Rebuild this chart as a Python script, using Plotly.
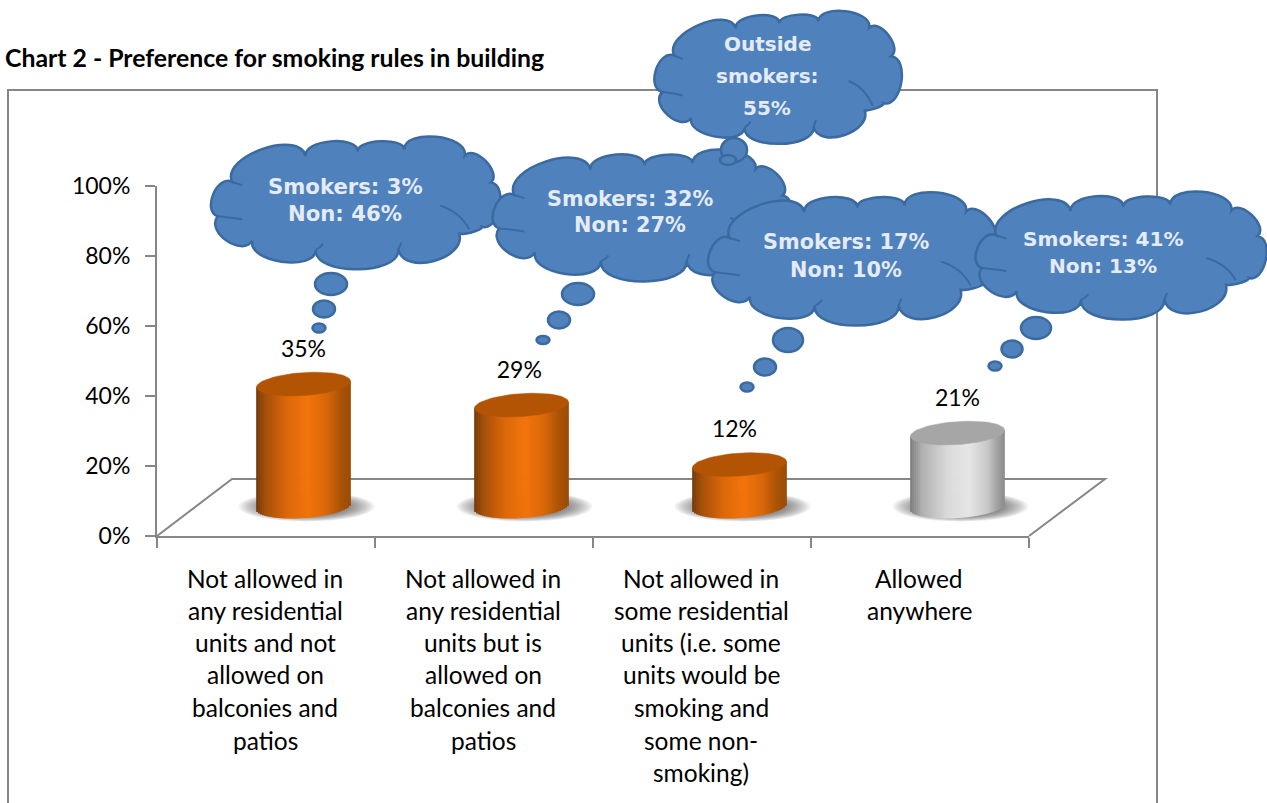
import numpy as np
import plotly.graph_objects as go

W, H = 1267, 803

# ---------- data ----------
title_text = "Chart 2 - Preference for smoking rules in building"
category_lines = [
    ["Not allowed in", "any residential", "units and not", "allowed on", "balconies and", "patios"],
    ["Not allowed in", "any residential", "units but is", "allowed on", "balconies and", "patios"],
    ["Not allowed in", "some residential", "units (i.e. some", "units would be", "smoking and", "some non-", "smoking)"],
    ["Allowed", "anywhere"],
]
values = [35, 29, 12, 21]
y_ticks = [0, 20, 40, 60, 80, 100]
y_tick_labels = ["0%", "20%", "40%", "60%", "80%", "100%"]
callout_lines = [
    ["Smokers: 3%", "Non: 46%"],
    ["Smokers: 32%", "Non: 27%"],
    ["Outside", "smokers:", "55%"],
    ["Smokers: 17%", "Non: 10%"],
    ["Smokers: 41%", "Non: 13%"],
]

# ---------- layout constants (pixels of the page) ----------
AX_L, AX_R, AX_T, AX_B = 157, 1029, 186, 536
PX_X = (AX_R - AX_L) / 4.0
PX_Y = (AX_B - AX_T) / 100.0
GREY = "#868686"
FONT = "Lato"
TICK_SIZE = 24.5
Y_TICK_SIZE = 23
BAR_SHIFT = 0.172      # perspective shift of the cylinders
LABEL_SHIFT = [0.0, -0.01, -0.023, 0.0]
DEPTH_BASE = 8.4       # floor depth offset, axis units
A, B, SHEAR = 47.0, 11.5, 0.065   # cylinder ellipse (px)
N = 48

def fx(x): return x / W
def fy(y): return 1 - y / H

ORANGE = [(-1, "#75390A"), (-0.8, "#A5500A"), (-0.35, "#DB680A"), (0.1, "#F3730A"), (0.5, "#D8670A"), (0.8, "#AB5306"), (1, "#994A03")]
SILVER = [(-1, "#7C7C7C"), (-0.75, "#B0B0B0"), (-0.2, "#DADADA"), (0.25, "#E6E6E6"), (0.65, "#C8C8C8"), (0.85, "#A2A2A2"), (1, "#8A8A8A")]
CAPS = ["#B25404", "#B25404", "#B25404", "#A6A6A6"]
RAMPS = [ORANGE, ORANGE, ORANGE, SILVER]

def ramp(stops, u):
    for (u0, c0), (u1, c1) in zip(stops, stops[1:]):
        if u <= u1:
            t = (u - u0) / (u1 - u0)
            a = [int(c0[i:i + 2], 16) for i in (1, 3, 5)]
            b = [int(c1[i:i + 2], 16) for i in (1, 3, 5)]
            return "rgb(%d,%d,%d)" % tuple(round(p + (q - p) * t) for p, q in zip(a, b))
    return stops[-1][1]

# ---------- cylinders: strips of a bar trace ----------
bar_x, bar_h, bar_b, bar_c = [], [], [], []
us = (np.arange(N) + 0.5) / N * 2 - 1
for i, v in enumerate(values):
    for u in us:
        tilt = SHEAR * A * u / PX_Y
        drop = B * np.sqrt(1 - u * u) / PX_Y
        low = DEPTH_BASE + tilt - drop
        top = DEPTH_BASE + tilt + v
        bar_x.append(i + BAR_SHIFT + u * A / PX_X)
        bar_b.append(low)
        bar_h.append(top - low)
        bar_c.append(ramp(RAMPS[i], u))

fig = go.Figure()
fig.add_trace(go.Bar(x=bar_x, y=bar_h, base=bar_b, width=1.35 * 2 * A / PX_X / N,
                     marker=dict(color=bar_c, line=dict(width=0)), hoverinfo="skip", showlegend=False))

# cylinder caps
th = np.linspace(0, 2 * np.pi, 73)
for i, v in enumerate(values):
    cx = i + BAR_SHIFT + A * np.cos(th) / PX_X
    cy = DEPTH_BASE + v + (B * np.sin(th) + SHEAR * A * np.cos(th)) / PX_Y
    fig.add_trace(go.Scatter(x=cx, y=cy, mode="lines", fill="toself", fillcolor=CAPS[i],
                             line=dict(color=CAPS[i], width=0.5), hoverinfo="skip", showlegend=False))

# data labels
fig.add_trace(go.Scatter(x=[i + BAR_SHIFT + LABEL_SHIFT[i] for i in range(4)],
                         y=[v + DEPTH_BASE + 9.4 for v in values],
                         mode="text", text=[f"{v}%" for v in values],
                         textposition="middle center",
                         textfont=dict(family=FONT, size=Y_TICK_SIZE, color="#000"),
                         hoverinfo="skip", showlegend=False))

shapes = []

# outer chart frame
shapes.append(dict(type="path", xref="paper", yref="paper", layer="below",
                   path=f"M{fx(8)},{fy(810)} L{fx(8)},{fy(90)} L{fx(1157)},{fy(90)} L{fx(1157)},{fy(810)}",
                   line=dict(color=GREY, width=2)))
# 3-D floor outline
shapes.append(dict(type="path", xref="paper", yref="paper", layer="below",
                   path=f"M{fx(AX_L)},{fy(AX_B)} L{fx(232)},{fy(479)} L{fx(1105)},{fy(479)} L{fx(AX_R)},{fy(AX_B)}",
                   line=dict(color=GREY, width=2)))
# floor shadows
for i in range(4):
    c = i + BAR_SHIFT + 3 / PX_X
    for k in range(14):
        a = 68 - k * 1.9
        b = 15 - k * 0.4
        shapes.append(dict(type="circle", xref="x", yref="y", layer="below",
                           x0=c - a / PX_X, x1=c + a / PX_X,
                           y0=DEPTH_BASE - b / PX_Y, y1=DEPTH_BASE + b / PX_Y,
                           fillcolor="rgba(70,70,70,0.06)", line=dict(width=0)))

# ---------- thought clouds ----------
CLOUD_FILL, CLOUD_EDGE = "#4F81BD", "#3A6A9F"
JUNCTIONS = [
    (0.080, 0.340), (0.335, 0.145), (0.515, 0.110), (0.675, 0.095), (0.885, 0.140),
    (0.975, 0.345), (0.945, 0.680), (0.865, 0.725), (0.655, 0.850), (0.370, 0.855),
    (0.150, 0.785), (0.030, 0.600),
]
BULGE = [0.27, 0.24, 0.20, 0.26, 0.30, 0.30, 0.12, 0.33, 0.24, 0.26, 0.35, 0.34]

def cloud_path(x0, y0, x1, y1):
    w, h = x1 - x0, y1 - y0
    P = [(x0 + px * w, y0 + py * h) for px, py in JUNCTIONS]
    n = len(P)
    d = f"M{fx(P[0][0])},{fy(P[0][1])}"
    for j in range(n):
        p, q = P[j], P[(j + 1) % n]
        dx, dy = q[0] - p[0], q[1] - p[1]
        L = np.hypot(dx, dy)
        nx, ny = dy / L, -dx / L
        k = BULGE[j] * L * 1.33
        c1 = (p[0] + nx * k - dx * 0.03, p[1] + ny * k - dy * 0.03)
        c2 = (q[0] + nx * k + dx * 0.03, q[1] + ny * k + dy * 0.03)
        d += f" C{fx(c1[0])},{fy(c1[1])} {fx(c2[0])},{fy(c2[1])} {fx(q[0])},{fy(q[1])}"
    return d + " Z"

def curls(x0, y0, x1, y1):
    w, h = x1 - x0, y1 - y0
    out = []
    for a, c, b in [((0.80, 0.52), (0.87, 0.57), (0.90, 0.70)),
                    ((0.030, 0.60), (0.08, 0.61), (0.115, 0.625)),
                    ((0.08, 0.34), (0.095, 0.35), (0.115, 0.365)),
                    ((0.655, 0.850), (0.66, 0.83), (0.665, 0.80)),
                    ((0.370, 0.855), (0.385, 0.84), (0.395, 0.81))]:
        P = [(x0 + u * w, y0 + v * h) for u, v in (a, c, b)]
        out.append(f"M{fx(P[0][0])},{fy(P[0][1])} Q{fx(P[1][0])},{fy(P[1][1])} {fx(P[2][0])},{fy(P[2][1])}")
    return " ".join(out)

def ell(cx, cy, rx, ry):
    return dict(type="circle", xref="paper", yref="paper", x0=fx(cx - rx), x1=fx(cx + rx),
                y0=fy(cy + ry), y1=fy(cy - ry), fillcolor=CLOUD_FILL,
                line=dict(color=CLOUD_EDGE, width=2.5), layer="above")

clouds = [
    ((209, 137, 498, 269), [(331, 284, 16, 11), (324, 309, 11, 8.5), (319, 328, 6.5, 4.5)]),
    ((490, 151, 790, 280), [(578, 294, 16, 11), (559, 320, 11, 8.5), (543, 340, 6.5, 4)]),
    ((655, 8, 897, 148), [(734, 150, 13, 12), (728, 160, 8, 5)]),
    ((706, 193, 1000, 325), [(788, 340, 15, 12), (765, 367, 11, 8.5), (747, 387, 6.5, 4.5)]),
    ((973, 193, 1265, 318), [(1036, 328, 15, 11), (1012, 349, 10.5, 8.5), (995, 366, 6.5, 4.5)]),
]
for box, bubbles in clouds:
    for b in bubbles:
        shapes.append(ell(*b))
    shapes.append(dict(type="path", xref="paper", yref="paper", layer="above", path=cloud_path(*box),
                       fillcolor=CLOUD_FILL, line=dict(color=CLOUD_EDGE, width=2.5)))
    shapes.append(dict(type="path", xref="paper", yref="paper", layer="above", path=curls(*box),
                       line=dict(color=CLOUD_EDGE, width=2)))

# ---------- text ----------
ann = []
LINE_Y = [578, 610, 642, 674, 707, 740, 772]
for i, lines in enumerate(category_lines):
    for y, t in zip(LINE_Y, lines):
        ann.append(dict(x=i - 1 / PX_X, xref="x", y=fy(y), yref="paper", text=t, showarrow=False,
                        xanchor="center", yanchor="middle",
                        font=dict(family=FONT, size=TICK_SIZE, color="#000")))
callout_pos = [(345, [186, 214]), (630, [199, 225]), (767, [44, 76, 108]), (846, [242, 270]), (1103, [239, 266])]
callout_size = [21.2, 20.8, 20, 20.8, 20.1]
for lines, (x, ys), size in zip(callout_lines, callout_pos, callout_size):
    for y, t in zip(ys, lines):
        ann.append(dict(x=fx(x), xref="paper", y=fy(y), yref="paper", text=f"<b>{t}</b>", showarrow=False,
                        xanchor="center", yanchor="middle",
                        font=dict(family="DejaVu Sans", size=size, color="#E4EBF5")))

fig.update_layout(
    width=W, height=H, margin=dict(l=0, r=0, t=0, b=0),
    paper_bgcolor="#fff", plot_bgcolor="rgba(0,0,0,0)", barmode="overlay", showlegend=False,
    title=dict(text=f"<b>{title_text}</b>", x=5 / W, xanchor="left", y=fy(58), yanchor="middle",
               font=dict(family=FONT, size=24.8, color="#000")),
    xaxis=dict(domain=[fx(AX_L), fx(AX_R)], range=[-0.5, 3.5], type="linear", automargin=False,
               tickmode="array", tickvals=[-0.5, 0.5, 1.5, 2.5, 3.5], showticklabels=False,
               ticks="outside", ticklen=10, tickwidth=2, tickcolor=GREY,
               showline=True, linecolor=GREY, linewidth=2, showgrid=False, zeroline=False, fixedrange=True),
    yaxis=dict(domain=[fy(AX_B), fy(AX_T)], range=[0, 100], automargin=False, tickmode="array",
               tickvals=y_ticks, ticktext=y_tick_labels,
               ticks="outside", ticklen=10, tickwidth=2, tickcolor=GREY,
               ticklabelstandoff=10,
               tickfont=dict(family=FONT, size=Y_TICK_SIZE, color="#000"),
               showline=True, linecolor=GREY, linewidth=2, showgrid=False, zeroline=False, fixedrange=True),
    shapes=shapes, annotations=ann,
)

fig.write_html("out.html", config=dict(displayModeBar=False),
               post_script="document.body.style.margin='0';document.body.style.overflow='hidden';")
